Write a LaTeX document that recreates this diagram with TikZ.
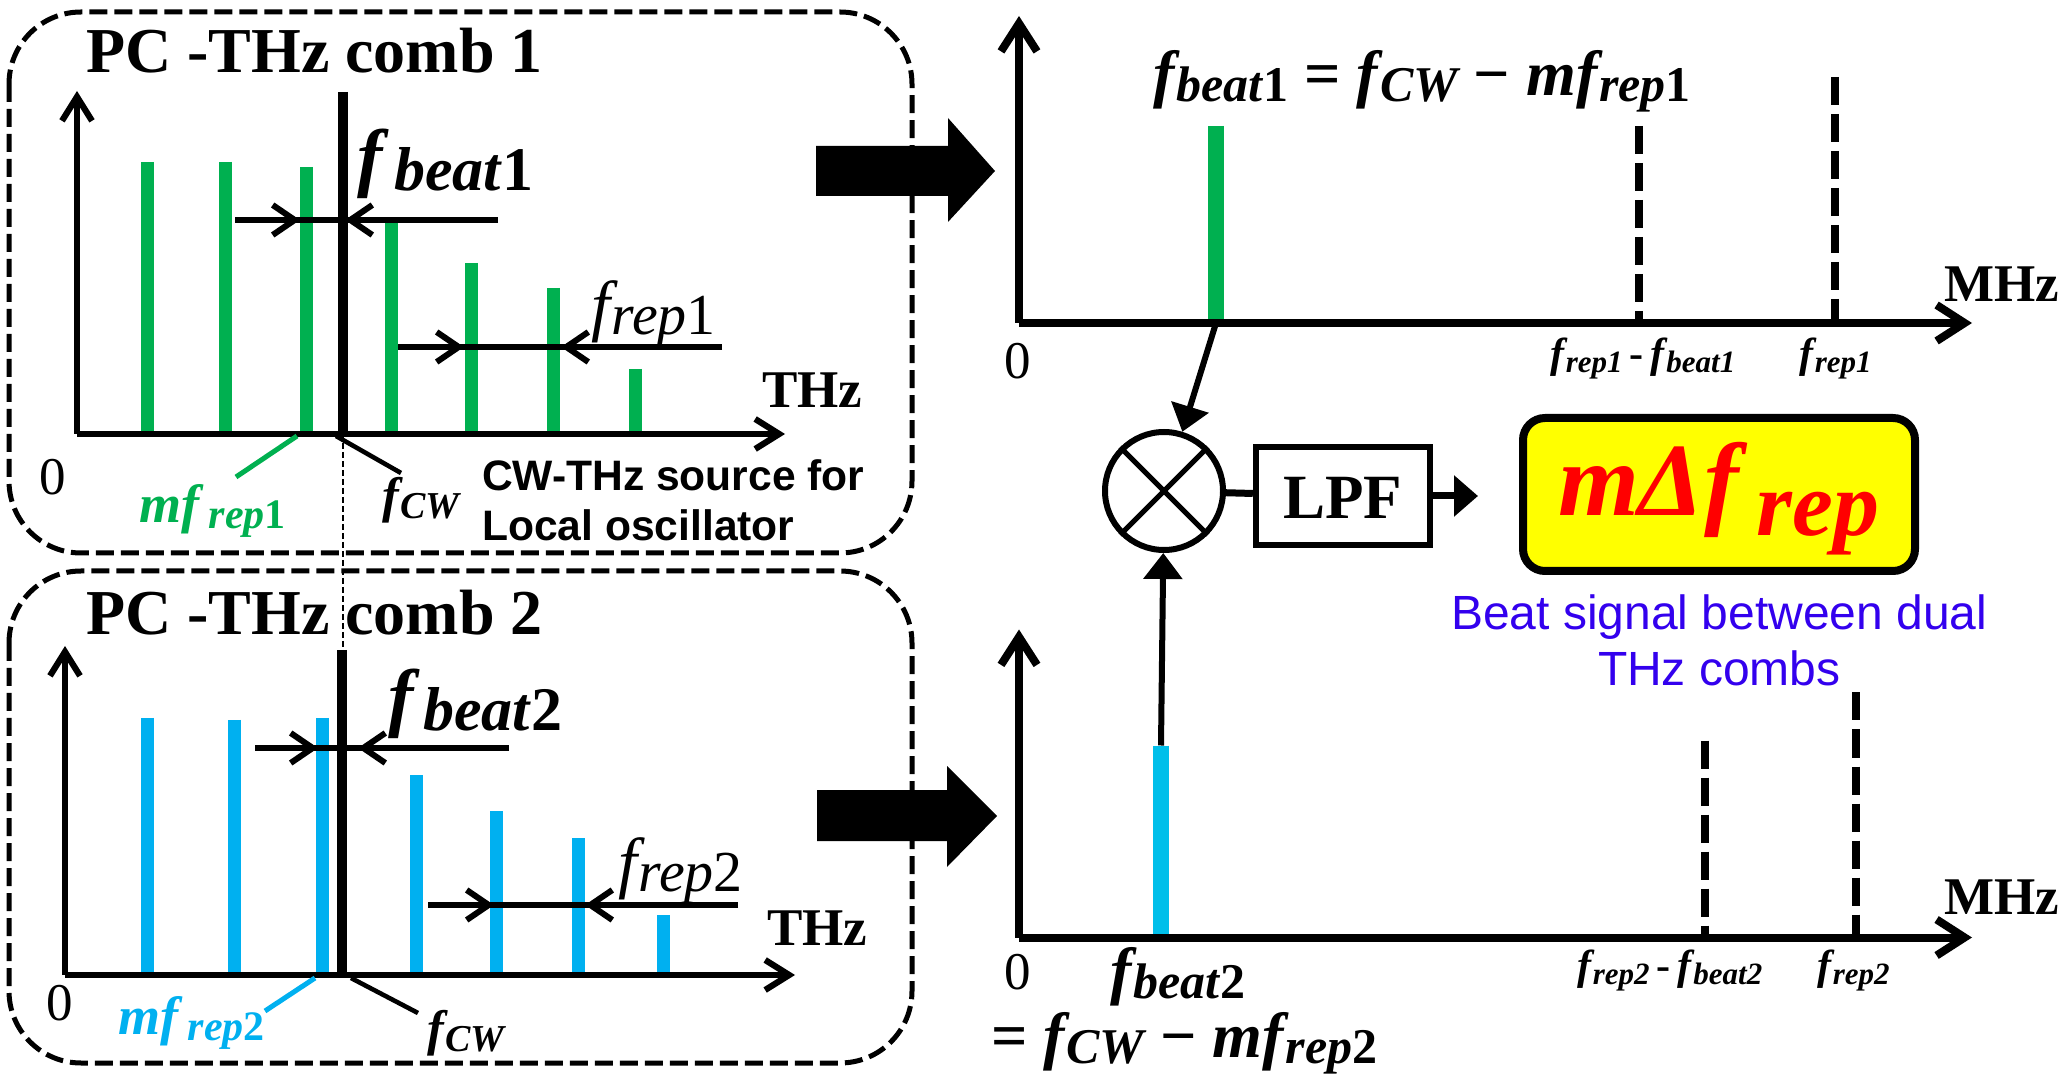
\documentclass[tikz,border=0pt]{standalone}
\usepackage{fontspec}
\setmainfont{Liberation Serif}
\newfontfamily\arialf{Liberation Sans}
\usetikzlibrary{arrows.meta}
\definecolor{gbar}{HTML}{00B050}
\definecolor{cbar}{HTML}{00B0F0}
\definecolor{cbarb}{HTML}{00BFEA}
\definecolor{bluet}{HTML}{3300EE}
\definecolor{yel}{RGB}{255,255,0}
\newcommand{\sz}[1]{\fontsize{#1pt}{#1pt}\selectfont}
% big symbol + lowered subscript : {big size}{sub size}{drop}{symbol}{sub}
\newcommand{\FS}[5]{{\sz{#1}\bfseries\itshape #4}\kern0.09em\raisebox{-#3pt}{\sz{#2}\bfseries\itshape #5}}
\newcommand{\FR}[5]{{\sz{#1}\itshape #4}\kern0.09em\raisebox{-#3pt}{\sz{#2}\itshape #5}}
\tikzset{
  lab/.style={anchor=base west,inner sep=0pt,outer sep=0pt},
  group/.style={draw=black,line width=2.5pt,rounded corners=36pt,dash pattern=on 9pt off 3.5pt},
  axisl/.style={line width=3.1pt,-{Straight Barb[length=12pt,width=15pt,line width=3.1pt]}},
  axisr/.style={line width=4pt,-{Straight Barb[length=14pt,width=18pt,line width=4pt]}},
  chev/.style={line width=3pt,-{Straight Barb[length=11pt,width=15pt,line width=3pt]}},
  plainl/.style={line width=3pt},
  gb/.style={line width=6.5pt,gbar},
  cb/.style={line width=6.5pt,cbar},
  cwl/.style={line width=5pt},
  dashb/.style={line width=4pt,dash pattern=on 14pt off 4.5pt},
  tick/.style={line width=2.3pt},
  conn/.style={line width=3pt,-{Triangle[length=13pt,width=19pt]}},
  blockarrow/.style={fill=black,draw=none},
}
\begin{document}
\begin{tikzpicture}[x=0.5pt,y=-0.5pt]
\useasboundingbox (0,0) rectangle (2069,1080);
\fill[white] (0,0) rectangle (2069,1080);
% group frames
\draw[group] (9,12) rectangle (912,553);
\draw[group] (9,571) rectangle (912,1063);
% guide between the two CW lines
\draw[line width=1pt,dash pattern=on 3pt off 1.5pt] (343,434) -- (343,651);
% ---------- comb 1 ----------
\foreach \x/\t in {147/162,225/162,306/167,391/221,471/263,553/288,635/369}
  \draw[gb] (\x,\t) -- (\x,434);
\coordinate (o1) at (77,434);
\draw[axisl] (o1) -- (77,91);
\draw[axisl] (o1) -- (785,434);
\draw[cwl] (343,92) -- (343,434);
\draw[plainl] (235,220) -- (498,220);
\draw[chev] (235,220) -- (300,220);
\draw[chev] (498,220) -- (345,220);
\draw[plainl] (398,347) -- (722,347);
\draw[chev] (398,347) -- (464,347);
\draw[chev] (722,347) -- (561,347);
\draw[line width=2.5pt,gbar] (297,436) -- (236,477);
\draw[tick] (336,436) -- (401,473);
\node[lab] (t1) at (86,73) {\sz{32}\bfseries PC -THz comb 1};
\node[lab] (x1) at (762,408) {\sz{26.5}\bfseries THz};
\node[lab,anchor=center] (z1) at (53,477) {\sz{26.5}0};
\node[lab,text=gbar] (m1) at (139,523) {\FS{27}{21}{3}{mf}{\kern4pt rep\textup{1}}};
\node[lab] (cw1) at (382,513) {\FS{25}{19}{3}{f}{CW}};
\node[lab] (b1) at (357,183) {\FS{38}{31}{4}{f}{\kern5pt beat\textup{1}}};
\node[lab] (r1) at (591,329) {\FR{34}{29}{3}{f}{rep\textup{1}}};
\node[lab] (s1) at (482,491) {\arialf\sz{21.3}\bfseries CW-THz source for};
\node[lab] (s2) at (482,541) {\arialf\sz{21.3}\bfseries Local oscillator};
% ---------- comb 2 ----------
\begin{scope}[yshift=-1.5pt]
\foreach \x/\t in {147/715,234/717,322/715,416/772,496/808,578/835,663/912}
  \draw[cb] (\x,\t) -- (\x,972);
\coordinate (o2) at (65,972);
\draw[axisl] (o2) -- (65,643);
\draw[axisl] (o2) -- (795,972);
\draw[cwl] (342,647) -- (342,972);
\draw[plainl] (255,745) -- (509,745);
\draw[chev] (255,745) -- (318,745);
\draw[chev] (509,745) -- (358,745);
\draw[plainl] (428,902) -- (738,902);
\draw[chev] (428,902) -- (494,902);
\draw[chev] (738,902) -- (585,902);
\draw[line width=2.5pt,cbar] (315,975) -- (265,1008);
\draw[tick] (351,975) -- (418,1010);
\node[lab] (t2) at (86,632) {\sz{32}\bfseries PC -THz comb 2};
\node[lab] (x2) at (767,942) {\sz{26.5}\bfseries THz};
\node[lab,anchor=center] (z2) at (60,1000) {\sz{26.5}0};
\node[lab,text=cbar] (m2) at (118,1031) {\FS{27}{21}{3}{mf}{\kern4pt rep\textup{2}}};
\node[lab] (cw2) at (427,1042) {\FS{25}{19}{3}{f}{CW}};
\node[lab] (b2) at (388,720) {\FS{38}{31}{4}{f}{\kern4pt beat\textup{2}}};
\node[lab] (r2) at (618,882) {\FR{34}{29}{3}{f}{rep\textup{2}}};
\end{scope}
% ---------- block arrows ----------
\fill[blockarrow] (816,146) -- (948,146) -- (948,118) -- (995,171) -- (948,222) -- (948,196) -- (816,196) -- cycle;
\fill[blockarrow] (817,790) -- (947,790) -- (947,766) -- (997,816) -- (947,867) -- (947,841) -- (817,841) -- cycle;
% ---------- spectrum 1 ----------
\coordinate (o3) at (1019,323);
\coordinate (g1) at (1216,323);
\draw[line width=8pt,gbar] (1216,126) -- (g1);
\draw[dashb] (1639,126) -- (1639,323);
\draw[dashb] (1835,77) -- (1835,323);
\draw[axisr] (o3) -- (1019,16);
\draw[axisr] (o3) -- (1972,323);
\node[lab] (e1) at (1153,96) {\FS{32}{25}{3}{f}{beat\textup{1}}{\sz{32}\bfseries\ =\ }\FS{32}{25}{3}{f}{CW}{\sz{32}\bfseries\ −\ }\FS{32}{25}{3}{mf}{rep\textup{1}}};
\node[lab] (u1) at (1944,302) {\sz{26.5}\bfseries MHz};
\node[lab,anchor=center] (z3) at (1018,361) {\sz{26.5}0};
\node[lab] (l1) at (1550,368) {\FS{21}{15.5}{2.5}{f}{rep1}{\sz{21}\bfseries\,-\,}\FS{21}{15.5}{2.5}{f}{beat1}};
\node[lab] (l2) at (1799,368) {\FS{21}{15.5}{2.5}{f}{rep1}};
% ---------- spectrum 2 ----------
\begin{scope}[yshift=-1.25pt]
\coordinate (o4) at (1019,935);
\coordinate (c2) at (1161,743);
\draw[line width=8pt,cbarb] (c2) -- (1161,935);
\draw[dashb] (1705,738) -- (1705,935);
\draw[dashb] (1856,690) -- (1856,935);
\draw[axisr] (o4) -- (1019,627);
\draw[axisr] (o4) -- (1972,935);
\node[lab] (u2) at (1944,912) {\sz{26.5}\bfseries MHz};
\node[lab,anchor=center] (z4) at (1018,970) {\sz{26.5}0};
\node[lab] (b3) at (1110,990) {\FS{32}{25}{3}{f}{beat\textup{2}}};
\node[lab] (e2) at (991,1055) {{\sz{32}\bfseries =\ }\FS{32}{25}{3}{f}{CW}{\sz{32}\bfseries\ −\ }\FS{32}{25}{3}{mf}{rep\textup{2}}};
\node[lab] (l3) at (1577,977) {\FS{21}{15.5}{2.5}{f}{rep2}{\sz{21}\bfseries\,-\,}\FS{21}{15.5}{2.5}{f}{beat2}};
\node[lab] (l4) at (1817,977) {\FS{21}{15.5}{2.5}{f}{rep2}};
\end{scope}
% ---------- mixer chain ----------
\node[circle,draw,line width=3pt,minimum size=59pt,inner sep=0pt] (mix) at (1164,491) {};
\draw[line width=2.6pt] (mix.45) -- (mix.225);
\draw[line width=2.6pt] (mix.135) -- (mix.315);
\node[draw,line width=3.2pt,minimum width=87pt,minimum height=49pt,inner sep=0pt] (lpf) at (1343,496) {};
\node[lab] (lpft) at (1283,519) {\sz{31.5}\bfseries LPF};
\coordinate (lout) at (1478,496);
\draw[conn] (g1) -- (mix);
\draw[conn] (c2) -- (mix);
\draw[line width=3.5pt] (mix) -- (lpf);
\draw[line width=3.5pt,-{Triangle[length=12pt,width=20pt]}] (lpf) -- (lout);
\node[draw,fill=yel,line width=4pt,rounded corners=11pt,minimum width=196pt,minimum height=76.5pt,inner sep=0pt] (res) at (1719,494.5) {};
\node[lab,text=red] (rest) at (1558,516) {\FS{52}{46}{10}{mΔf}{\kern8pt rep}};
\node[lab,text=bluet] (bl1) at (1451,630) {\arialf\sz{24}Beat signal between dual};
\node[lab,text=bluet] (bl2) at (1598,686) {\arialf\sz{24}THz combs};
\end{tikzpicture}
\end{document}
